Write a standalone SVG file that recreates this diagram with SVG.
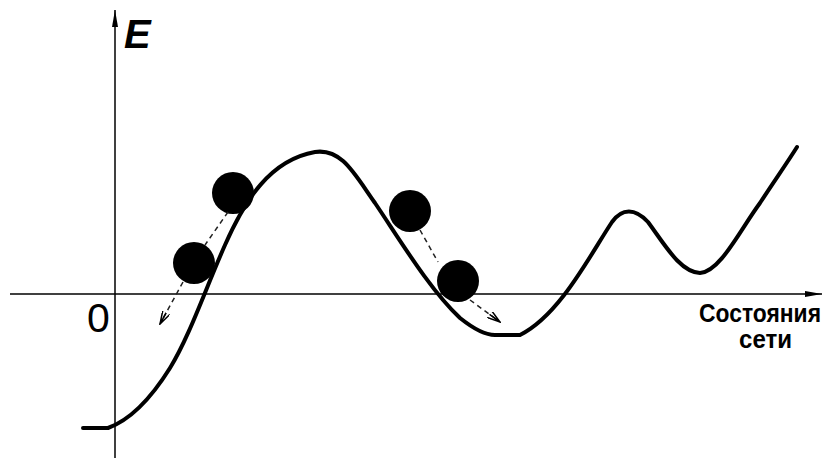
<svg xmlns="http://www.w3.org/2000/svg" width="827" height="463" viewBox="0 0 827 463">
<style>
.axis{stroke:#000;stroke-width:1.5;fill:none}
.curve{stroke:#000;stroke-width:4;fill:none;stroke-linejoin:round;stroke-linecap:round}
.dash{stroke:#222;stroke-width:1.5;fill:none;stroke-dasharray:5 4}
.ball{fill:#000}
.lbl{font-family:"Liberation Sans",Arial,sans-serif;fill:#000}
</style>
<defs>
<marker id="ah" markerWidth="14" markerHeight="8" refX="13" refY="4" orient="auto" markerUnits="userSpaceOnUse">
<path d="M0,0 L13,4 L0,8 M0,4 L13,4" stroke="#000" stroke-width="1.5" fill="none"/>
</marker>
<marker id="axh" markerWidth="18" markerHeight="8" refX="17" refY="4" orient="auto" markerUnits="userSpaceOnUse">
<path d="M0,1 L17,4 L0,7 Z" fill="#000"/>
</marker>
</defs>
<g id="axes">
<line class="axis" x1="115" y1="458" x2="115" y2="10" marker-end="url(#axh)"/>
<line class="axis" x1="10" y1="294" x2="822" y2="294" marker-end="url(#axh)"/>
</g>
<g id="curve">
<path class="curve" d="M83,428 L108,428 C130,420 150,400 170,368 C190,335 205,290 225,245 C245,200 270,160 315,152 C342,148 355,175 375,203 C400,240 430,290 460,318 C475,330 485,335 495,335 L520,335 C560,315 590,255 612,222 C622,208 635,208 648,222 C665,245 680,272 700,273 C720,272 740,230 760,203 C775,180 787,163 797,147"/>
</g>
<g id="ball1"><circle class="ball" cx="233" cy="193" r="21"/></g>
<g id="ball2"><circle class="ball" cx="194" cy="263" r="21"/></g>
<g id="ball3"><circle class="ball" cx="410" cy="211" r="21"/></g>
<g id="ball4"><circle class="ball" cx="458" cy="281" r="21"/></g>
<g id="connectors">
<path class="dash" d="M228,212 L205,245 M183,282 L160,324" marker-end="url(#ah)"/>
<path class="dash" d="M420,230 L438,262 M470,300 L500,322" marker-end="url(#ah)"/>
</g>
<g id="labels">
<text class="lbl" x="124" y="48" font-size="40" font-weight="bold" font-style="italic">E</text>
<text class="lbl" x="87" y="332" font-size="41">0</text>
<text class="lbl" x="699" y="322" font-size="26" font-weight="bold" textLength="122" lengthAdjust="spacingAndGlyphs">Состояния</text>
<text class="lbl" x="739" y="348" font-size="26" font-weight="bold" textLength="53" lengthAdjust="spacingAndGlyphs">сети</text>
</g>
</svg>
